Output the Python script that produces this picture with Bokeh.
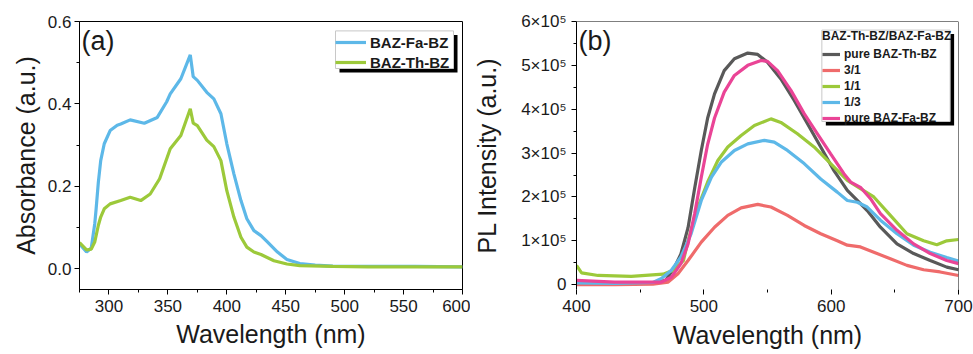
from bokeh.plotting import figure
from bokeh.layouts import row
from bokeh.models import (Range1d, FixedTicker, Legend, LegendItem, BoxAnnotation,
                          Label, Span, NumeralTickFormatter)
from bokeh.embed import file_html
from bokeh.resources import INLINE

# ---------------- data: panel (a) absorbance ----------------
wl_fa = [275, 281, 285, 288, 289, 291, 293, 296, 301, 307, 310, 318, 330, 341, 349, 352,
         361, 369, 371.5, 375, 383, 389, 395, 400, 406, 412, 417, 423, 429, 434, 443,
         451, 462, 475, 490, 520, 560, 600]
abs_fa = [0.060, 0.040, 0.050, 0.110, 0.141, 0.210, 0.262, 0.303, 0.335, 0.348, 0.351,
          0.361, 0.353, 0.367, 0.405, 0.424, 0.461, 0.519, 0.466, 0.457, 0.428, 0.412,
          0.376, 0.303, 0.230, 0.165, 0.121, 0.092, 0.080, 0.066, 0.040, 0.022, 0.012,
          0.008, 0.006, 0.005, 0.005, 0.004]

wl_th = [275, 281, 285, 288, 291, 293, 296, 301, 310, 318, 327, 335, 343, 352, 361, 369,
         371.5, 375, 383, 389, 395, 400, 406, 412, 417, 423, 429, 440, 451, 462, 490,
         520, 600]
abs_th = [0.063, 0.045, 0.047, 0.065, 0.105, 0.125, 0.145, 0.157, 0.165, 0.173, 0.165,
          0.181, 0.218, 0.291, 0.323, 0.388, 0.353, 0.347, 0.312, 0.296, 0.262, 0.189,
          0.125, 0.076, 0.052, 0.040, 0.034, 0.019, 0.011, 0.007, 0.005, 0.004, 0.004]

# ---------------- data: panel (b) PL intensity ----------------
pl_th_x = [400, 430, 460, 470, 477, 482, 487.6, 492.8, 498, 503, 508.4, 516, 524, 534.5,
           542.3, 550, 560.5, 571, 581.4, 591.8, 602.2, 612.7, 620.5, 628.3, 638.7,
           651.7, 664.8, 677.8, 690.8, 700]
pl_th_y = [4000, 3000, 4000, 10000, 40000, 70000, 130000, 220000, 306000, 380000, 435000,
           488000, 515000, 528000, 525000, 507000, 469000, 420000, 367000, 314000,
           260000, 215000, 192000, 169000, 131000, 93000, 71000, 55000, 40000, 34000]

pl_31_x = [400, 430, 460, 472, 479.7, 487.6, 498, 508.4, 518.8, 529.3, 542.3, 552.7,
           565.7, 578.8, 591.8, 604.8, 612.7, 623, 633.5, 646.5, 659.5, 672.6, 685.6, 700]
pl_31_y = [0, 0, 1000, 6000, 25000, 55000, 97000, 131000, 158000, 175000, 183000, 177000,
           158000, 135000, 116000, 100000, 90000, 86000, 74000, 59000, 44000, 34000,
           29000, 21000]

pl_11_x = [400, 404, 417, 443, 468, 476, 484, 487.6, 495.4, 503, 511, 518.8, 529.3,
           539.7, 552.7, 560.5, 573.5, 586.6, 599.6, 612.7, 623, 633.5, 646.5, 659.5,
           672.6, 683, 690.8, 700]
pl_11_y = [44000, 27000, 21000, 19000, 24000, 33000, 55000, 100000, 177000, 234000,
           283000, 314000, 340000, 363000, 378000, 370000, 344000, 314000, 276000,
           238000, 219000, 200000, 158000, 116000, 100000, 91000, 100000, 103000]

pl_13_x = [400, 430, 460, 466.7, 474.5, 482, 490, 498, 506, 513.6, 524, 534.5, 547.5,
           555.3, 565.7, 578.8, 591.8, 604.8, 612.7, 620.5, 628.3, 638.7, 651.7, 664.8,
           677.8, 690.8, 700]
pl_13_y = [4000, 3000, 5000, 14000, 33000, 63000, 116000, 192000, 245000, 279000, 306000,
           321000, 329000, 325000, 306000, 276000, 241000, 211000, 192000, 188000,
           177000, 147000, 116000, 90000, 74000, 62000, 54000]

pl_fa_x = [400, 430, 450, 466.7, 474.5, 482, 487.6, 492.8, 498, 503, 508.4, 516, 524,
           534.5, 544.9, 550, 557.9, 568.4, 578.8, 589.2, 599.6, 610, 615.3, 623, 630.9,
           638.7, 651.7, 664.8, 677.8, 690.8, 700]
pl_fa_y = [10000, 6000, 6000, 6000, 17000, 48000, 93000, 162000, 245000, 320000, 380000,
           439000, 477000, 500000, 511000, 509000, 488000, 443000, 390000, 344000,
           298000, 253000, 234000, 222000, 196000, 162000, 124000, 93000, 71000, 55000,
           48000]

x_ticks_a = [300, 350, 400, 450, 500, 550, 600]
y_ticks_a = [0.0, 0.2, 0.4, 0.6]
x_ticks_b = [400, 500, 600, 700]
y_ticks_b = [0, 100000, 200000, 300000, 400000, 500000, 600000]
y_labels_b = ["0", "1×10⁵", "2×10⁵", "3×10⁵", "4×10⁵", "5×10⁵", "6×10⁵"]

x_title = "Wavelength (nm)"
y_title_a = "Absorbance (a.u.)"
y_title_b = "PL Intensity (a.u.)"
labels_a = ["BAZ-Fa-BZ", "BAZ-Th-BZ"]
labels_b = ["pure BAZ-Th-BZ", "3/1", "1/1", "1/3", "pure BAZ-Fa-BZ"]
legend_title_b = "BAZ-Th-BZ/BAZ-Fa-BZ"

# ---------------- style ----------------
FONT = "Liberation Sans"
BLUE = "#5DB8E8"
GREEN = "#9CC93A"
GRAY = "#595959"
RED = "#EF6B6B"
PINK = "#EA4496"
TXT = "#1a1a1a"
LW = 3.2

FRAME_W, FRAME_H = 383, 268


def style(p):
    for ax in (p.xaxis[0], p.yaxis[0]):
        ax.axis_line_color = "black"
        ax.major_tick_line_color = "black"
        ax.minor_tick_line_color = "black"
        ax.major_tick_out = 5
        ax.major_tick_in = 0
        ax.minor_tick_out = 3
        ax.minor_tick_in = 0
        ax.major_label_text_font = FONT
        ax.major_label_text_font_size = "17px"
        ax.major_label_text_color = TXT
        ax.axis_label_text_font = FONT
        ax.axis_label_text_font_size = "25px"
        ax.axis_label_text_font_style = "normal"
        ax.axis_label_text_color = TXT
        ax.major_label_standoff = 3
        ax.axis_label_standoff = 5
    p.xaxis[0].major_label_standoff = 5
    p.xgrid.visible = False
    p.ygrid.visible = False
    p.background_fill_color = "white"
    p.border_fill_color = "white"


def px2x(p, px):
    r = p.x_range
    return r.start + px * (r.end - r.start) / FRAME_W


def px2y(p, py):
    r = p.y_range
    return r.start + py * (r.end - r.start) / FRAME_H


def legend_box(p, left, bottom, w, h, off=4):
    """white framed box with a black drop shadow, given in frame pixels"""
    sh = BoxAnnotation(left=px2x(p, left + off), right=px2x(p, left + w + off),
                       bottom=px2y(p, bottom - off), top=px2y(p, bottom + h - off),
                       fill_color="black", fill_alpha=1, line_color=None)
    bx = BoxAnnotation(left=px2x(p, left), right=px2x(p, left + w),
                       bottom=px2y(p, bottom), top=px2y(p, bottom + h),
                       fill_color="white", fill_alpha=1, line_color="#c8c8c8",
                       line_width=1, line_alpha=1)
    p.add_layout(sh)
    p.add_layout(bx)


# ---------------- panel (a) ----------------
pa = figure(width=470, height=354, x_range=Range1d(275, 600), y_range=Range1d(-0.051, 0.6),
            output_backend="svg", toolbar_location=None,
            min_border_left=79, min_border_right=8, min_border_top=21, min_border_bottom=65,
            x_axis_label=x_title, y_axis_label=y_title_a)
style(pa)
pa.outline_line_color = "black"
pa.outline_line_alpha = 1
pa.xaxis.ticker = FixedTicker(ticks=x_ticks_a, minor_ticks=[275, 325, 375, 425, 475, 525, 575])
pa.yaxis.ticker = FixedTicker(ticks=y_ticks_a, minor_ticks=[-0.1, 0.1, 0.3, 0.5])
pa.yaxis.formatter = NumeralTickFormatter(format="0.0")

r_fa = pa.line(wl_fa, abs_fa, line_color=BLUE, line_width=LW)
r_th = pa.line(wl_th, abs_th, line_color=GREEN, line_width=LW)

legend_box(pa, 256, 221, 118, 37.6)
leg_a = Legend(items=[LegendItem(label=labels_a[0], renderers=[r_fa]),
                      LegendItem(label=labels_a[1], renderers=[r_th])],
               location=(256, 218), margin=0, padding=2, spacing=2,
               label_height=18, glyph_height=18, glyph_width=31, label_standoff=4,
               label_text_font=FONT, label_text_font_size="15px",
               label_text_font_style="bold", label_text_color=TXT,
               border_line_color=None, background_fill_alpha=0)
pa.add_layout(leg_a, "center")
pa.add_layout(Label(x=px2x(pa, 2), y=px2y(pa, FRAME_H - 4), text="(a)", text_baseline="top",
                    text_font=FONT, text_font_size="27px", text_color=TXT))

# ---------------- panel (b) ----------------
pb = figure(width=503, height=354, x_range=Range1d(400, 700), y_range=Range1d(-11000, 600000),
            output_backend="svg", toolbar_location=None,
            min_border_left=105, min_border_right=15, min_border_top=21, min_border_bottom=65,
            x_axis_label=x_title, y_axis_label=y_title_b)
style(pb)
pb.xaxis.axis_label_standoff = 6
pb.yaxis.axis_label_standoff = 17
pb.yaxis.major_label_standoff = 5
pb.outline_line_color = None
pb.xaxis.axis_line_alpha = 0
pb.xaxis.ticker = FixedTicker(ticks=x_ticks_b, minor_ticks=[450, 550, 650])
pb.yaxis.ticker = FixedTicker(ticks=y_ticks_b,
                              minor_ticks=[50000, 150000, 250000, 350000, 450000, 550000])
pb.yaxis.major_label_overrides = {t: s for t, s in zip(y_ticks_b, y_labels_b)}
pb.add_layout(Span(location=600000, dimension="width", line_color="black", line_width=1))
pb.add_layout(Span(location=700, dimension="height", line_color="black", line_width=1))

r1 = pb.line(pl_th_x, pl_th_y, line_color=GRAY, line_width=LW)
r2 = pb.line(pl_31_x, pl_31_y, line_color=RED, line_width=LW)
r3 = pb.line(pl_11_x, pl_11_y, line_color=GREEN, line_width=LW)
r4 = pb.line(pl_13_x, pl_13_y, line_color=BLUE, line_width=LW)
r5 = pb.line(pl_fa_x, pl_fa_y, line_color=PINK, line_width=LW)

legend_box(pb, 246, 168, 128.6, 91.4)
leg_b = Legend(items=[LegendItem(label=l, renderers=[r]) for l, r in
                      zip(labels_b, [r1, r2, r3, r4, r5])],
               location=(246, 164), margin=0, padding=1, spacing=2,
               label_height=14, glyph_height=14, glyph_width=18, label_standoff=4,
               title=legend_title_b, title_text_font=FONT, title_text_font_size="12px",
               title_text_font_style="bold", title_text_color=TXT, title_standoff=4,
               label_text_font=FONT, label_text_font_size="12px",
               label_text_font_style="bold", label_text_color=TXT,
               border_line_color=None, background_fill_alpha=0)
pb.add_layout(leg_b, "center")
pb.add_layout(Label(x=px2x(pb, 2), y=px2y(pb, FRAME_H - 4), text="(b)", text_baseline="top",
                    text_font=FONT, text_font_size="27px", text_color=TXT))

layout = row(pa, pb, spacing=0)
open("out.html", "w").write(file_html(layout, INLINE))
